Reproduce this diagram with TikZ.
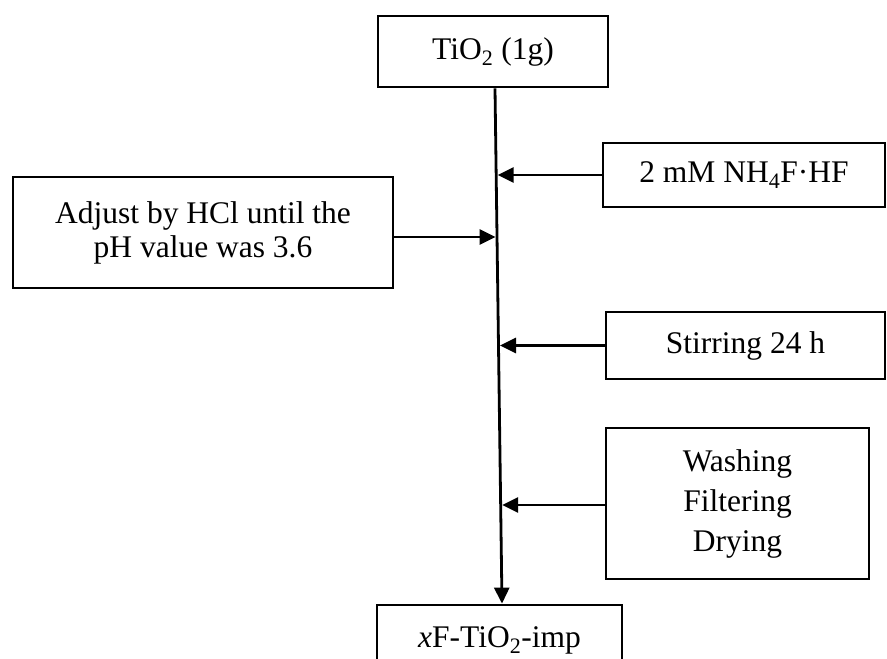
\documentclass[tikz,border=0pt]{standalone}
\usepackage{fontspec}
\setmainfont{Liberation Serif}
\usetikzlibrary{arrows.meta,calc}

\begin{document}
\begin{tikzpicture}[x=1pt,y=-1pt,
  box/.style={draw, line width=2.8pt, align=center, inner sep=0pt,
    font=\fontsize{31.5}{34}\selectfont},
  arr/.style={line width=2.8pt, -{Triangle[length=16pt,width=15pt]}}]
  \useasboundingbox (0,0) rectangle (887,659);
  \clip (0,0) rectangle (887,659);

  % process steps
  \node[box, minimum width=230pt, minimum height=71pt] (top) at (493,51.5)
    {TiO\textsubscript{2} (1g)};
  \node[box, minimum width=282pt, minimum height=64pt] (nh4) at (744,175)
    {2 mM NH\textsubscript{4}F·HF};
  \node[box, minimum width=380pt, minimum height=111pt] (adj) at (203,232.5)
    {Adjust by HCl until the\\pH value was 3.6};
  \node[box, minimum width=279pt, minimum height=67pt] (stir) at (745.5,345.5)
    {Stirring 24 h};
  \node[box, minimum width=263pt, minimum height=151pt,
    font=\fontsize{31.5}{40}\selectfont] (wash) at (737.5,503.5)
    {Washing\\Filtering\\Drying};
  \node[box, minimum width=245pt, minimum height=71pt] (out) at (499.5,640.5)
    {\textit{x}F-TiO\textsubscript{2}-imp};

  % main flow line
  \coordinate (vt) at ([xshift=2pt]top.south);
  \coordinate (vb) at ([xshift=2.5pt]out.north);
  \draw[arr] (vt) -- (vb);

  % side inputs joining the main line
  \coordinate (p1) at ($(vt)!0.170!(vb)+(1.5,0)$);
  \draw[arr] (nh4.west) -- (nh4.west -| p1);

  \coordinate (a0) at ([yshift=-4.5pt]adj.east);
  \coordinate (p2) at ($(vt)!0.289!(vb)+(-1.5,0)$);
  \draw[arr] (a0) -- (a0 -| p2);

  \coordinate (p3) at ($(vt)!0.500!(vb)+(1.5,0)$);
  \draw[arr] (stir.west) -- (stir.west -| p3);

  \coordinate (p4) at ($(vt)!0.807!(vb)+(1.5,0)$);
  \draw[arr] ([yshift=-1.5pt]wash.west) -- ([yshift=-1.5pt]wash.west -| p4);
\end{tikzpicture}
\end{document}
